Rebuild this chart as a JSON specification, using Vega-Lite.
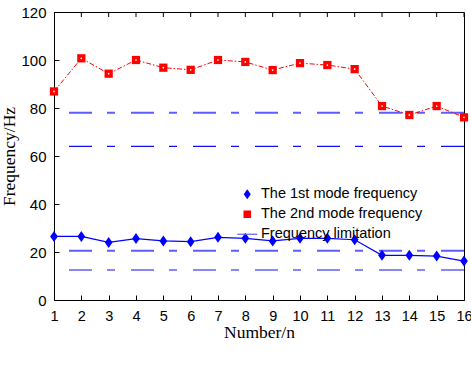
{
  "$schema": "https://vega.github.io/schema/vega-lite/v6.json",
  "width": 410,
  "height": 288,
  "autosize": "none",
  "padding": {"left": 54, "top": 12, "right": 7, "bottom": 68},
  "background": "white",
  "config": {
    "view": {"stroke": "black", "strokeWidth": 1}
  },
  "datasets": {
    "modes": [
      {"n": 1, "series": "The 1st mode frequency", "f": 26.5},
      {"n": 2, "series": "The 1st mode frequency", "f": 26.5},
      {"n": 3, "series": "The 1st mode frequency", "f": 24.0},
      {"n": 4, "series": "The 1st mode frequency", "f": 25.6},
      {"n": 5, "series": "The 1st mode frequency", "f": 24.6},
      {"n": 6, "series": "The 1st mode frequency", "f": 24.3},
      {"n": 7, "series": "The 1st mode frequency", "f": 26.1},
      {"n": 8, "series": "The 1st mode frequency", "f": 25.7},
      {"n": 9, "series": "The 1st mode frequency", "f": 24.6},
      {"n": 10, "series": "The 1st mode frequency", "f": 25.7},
      {"n": 11, "series": "The 1st mode frequency", "f": 25.7},
      {"n": 12, "series": "The 1st mode frequency", "f": 25.1},
      {"n": 13, "series": "The 1st mode frequency", "f": 18.6},
      {"n": 14, "series": "The 1st mode frequency", "f": 18.6},
      {"n": 15, "series": "The 1st mode frequency", "f": 18.3},
      {"n": 16, "series": "The 1st mode frequency", "f": 16.2},
      {"n": 1, "series": "The 2nd mode frequency", "f": 86.9},
      {"n": 2, "series": "The 2nd mode frequency", "f": 100.7},
      {"n": 3, "series": "The 2nd mode frequency", "f": 94.3},
      {"n": 4, "series": "The 2nd mode frequency", "f": 100.0},
      {"n": 5, "series": "The 2nd mode frequency", "f": 96.8},
      {"n": 6, "series": "The 2nd mode frequency", "f": 95.9},
      {"n": 7, "series": "The 2nd mode frequency", "f": 100.0},
      {"n": 8, "series": "The 2nd mode frequency", "f": 99.2},
      {"n": 9, "series": "The 2nd mode frequency", "f": 95.8},
      {"n": 10, "series": "The 2nd mode frequency", "f": 98.7},
      {"n": 11, "series": "The 2nd mode frequency", "f": 97.9},
      {"n": 12, "series": "The 2nd mode frequency", "f": 96.2},
      {"n": 13, "series": "The 2nd mode frequency", "f": 80.8},
      {"n": 14, "series": "The 2nd mode frequency", "f": 77.1},
      {"n": 15, "series": "The 2nd mode frequency", "f": 80.8},
      {"n": 16, "series": "The 2nd mode frequency", "f": 76.1}
    ],
    "limits": [
      {"limit": 78, "tone": "light"},
      {"limit": 64, "tone": "dark"},
      {"limit": 20.5, "tone": "light"},
      {"limit": 12.5, "tone": "dark"}
    ],
    "yticks": [
      {"v": 0}, {"v": 20}, {"v": 40}, {"v": 60}, {"v": 80}, {"v": 100}, {"v": 120}
    ]
  },
  "encoding": {
    "x": {"field": "n", "type": "quantitative", "scale": {"domain": [1, 16], "nice": false},
      "axis": {"values": [1,2,3,4,5,6,7,8,9,10,11,12,13,14,15,16], "title": "Number/n",
        "grid": false, "domain": false, "ticks": true, "tickColor": "black", "tickSize": 5, "offset": -5,
        "labelColor": "black", "labelFont": "Liberation Sans", "labelFontSize": 14.5, "labelPadding": 9,
        "labelOverlap": false, "labelFlush": false, "labelBound": false,
        "titleFont": "Liberation Serif", "titleFontSize": 17.5, "titleFontWeight": "normal", "titleColor": "black", "titlePadding": 1}},
    "y": {"field": "f", "type": "quantitative", "scale": {"domain": [0, 120]},
      "axis": {"values": [0, 20, 40, 60, 80, 100, 120], "title": "Frequency/Hz",
        "grid": false, "domain": false, "ticks": true, "tickColor": "black", "tickSize": 5, "offset": -5,
        "labelColor": "black", "labelFont": "Liberation Sans", "labelFontSize": 15, "labelPadding": 8,
        "labelOverlap": false, "labelFlush": false, "labelBound": false,
        "titleFont": "Liberation Serif", "titleFontSize": 17.5, "titleFontWeight": "normal", "titleColor": "black", "titlePadding": 2}}
  },
  "layer": [
    {
      "data": {"name": "limits"},
      "transform": [{"filter": "datum.tone === 'light'"}],
      "mark": {"type": "rule", "color": "#5c5cff", "strokeWidth": 2, "strokeDash": [23, 16, 8, 15]},
      "encoding": {
        "x": null,
        "y": {"field": "limit", "type": "quantitative"}
      }
    },
    {
      "data": {"name": "limits"},
      "transform": [{"filter": "datum.tone === 'dark'"}],
      "mark": {"type": "rule", "color": "#1010f0", "strokeWidth": 1.2, "strokeDash": [23, 16, 8, 15]},
      "encoding": {
        "x": null,
        "y": {"field": "limit", "type": "quantitative"}
      }
    },
    {
      "data": {"name": "modes"},
      "transform": [{"filter": "datum.series === 'The 1st mode frequency'"}],
      "mark": {"type": "tick", "orient": "vertical", "size": 10, "thickness": 1, "color": "black", "opacity": 1, "clip": true},
      "encoding": {
        "y": {"datum": 120, "type": "quantitative"}
      }
    },
    {
      "data": {"name": "yticks"},
      "mark": {"type": "tick", "orient": "horizontal", "size": 10, "thickness": 1, "color": "black", "opacity": 1, "clip": true},
      "encoding": {
        "x": {"datum": 16, "type": "quantitative"},
        "y": {"field": "v", "type": "quantitative"}
      }
    },
    {
      "data": {"name": "modes"},
      "transform": [{"filter": "datum.series === 'The 1st mode frequency'"}],
      "mark": {"type": "line", "color": "#0000ff", "strokeWidth": 1.2}
    },
    {
      "data": {"name": "modes"},
      "transform": [{"filter": "datum.series === 'The 2nd mode frequency'"}],
      "mark": {"type": "line", "color": "#ff0000", "strokeWidth": 1, "strokeDash": [5, 2, 1.5, 2]}
    },
    {
      "data": {"name": "modes"},
      "mark": {"type": "point", "filled": true, "size": 121, "opacity": 1},
      "encoding": {
        "color": {"field": "series", "type": "nominal",
          "scale": {"domain": ["The 1st mode frequency", "The 2nd mode frequency", "Frequency limitation"], "range": ["#0000ff", "#ff0000", "#5c5cff"]},
          "legend": {"title": null, "orient": "none", "legendX": 186, "legendY": 175, "padding": 0,
            "labelFont": "Liberation Sans", "labelFontSize": 14.5, "labelColor": "black", "labelOffset": 6.5, "labelLimit": 400, "rowPadding": 5}},
        "shape": {"field": "series", "type": "nominal",
          "scale": {"domain": ["The 1st mode frequency", "The 2nd mode frequency", "Frequency limitation"], "range": ["M0,-1L0.7,0L0,1L-0.7,0Z", "M-0.75,-0.75L0.75,-0.75L0.75,0.75L-0.75,0.75Z", "M-2,-0.12L2,-0.12L2,0.12L-2,0.12Z"]},
          "legend": {"title": null}}
      }
    },
    {
      "data": {"name": "modes"},
      "transform": [{"filter": "datum.series === 'The 2nd mode frequency'"}],
      "mark": {"type": "point", "filled": true, "size": 3, "color": "white", "opacity": 1}
    }
  ]
}
